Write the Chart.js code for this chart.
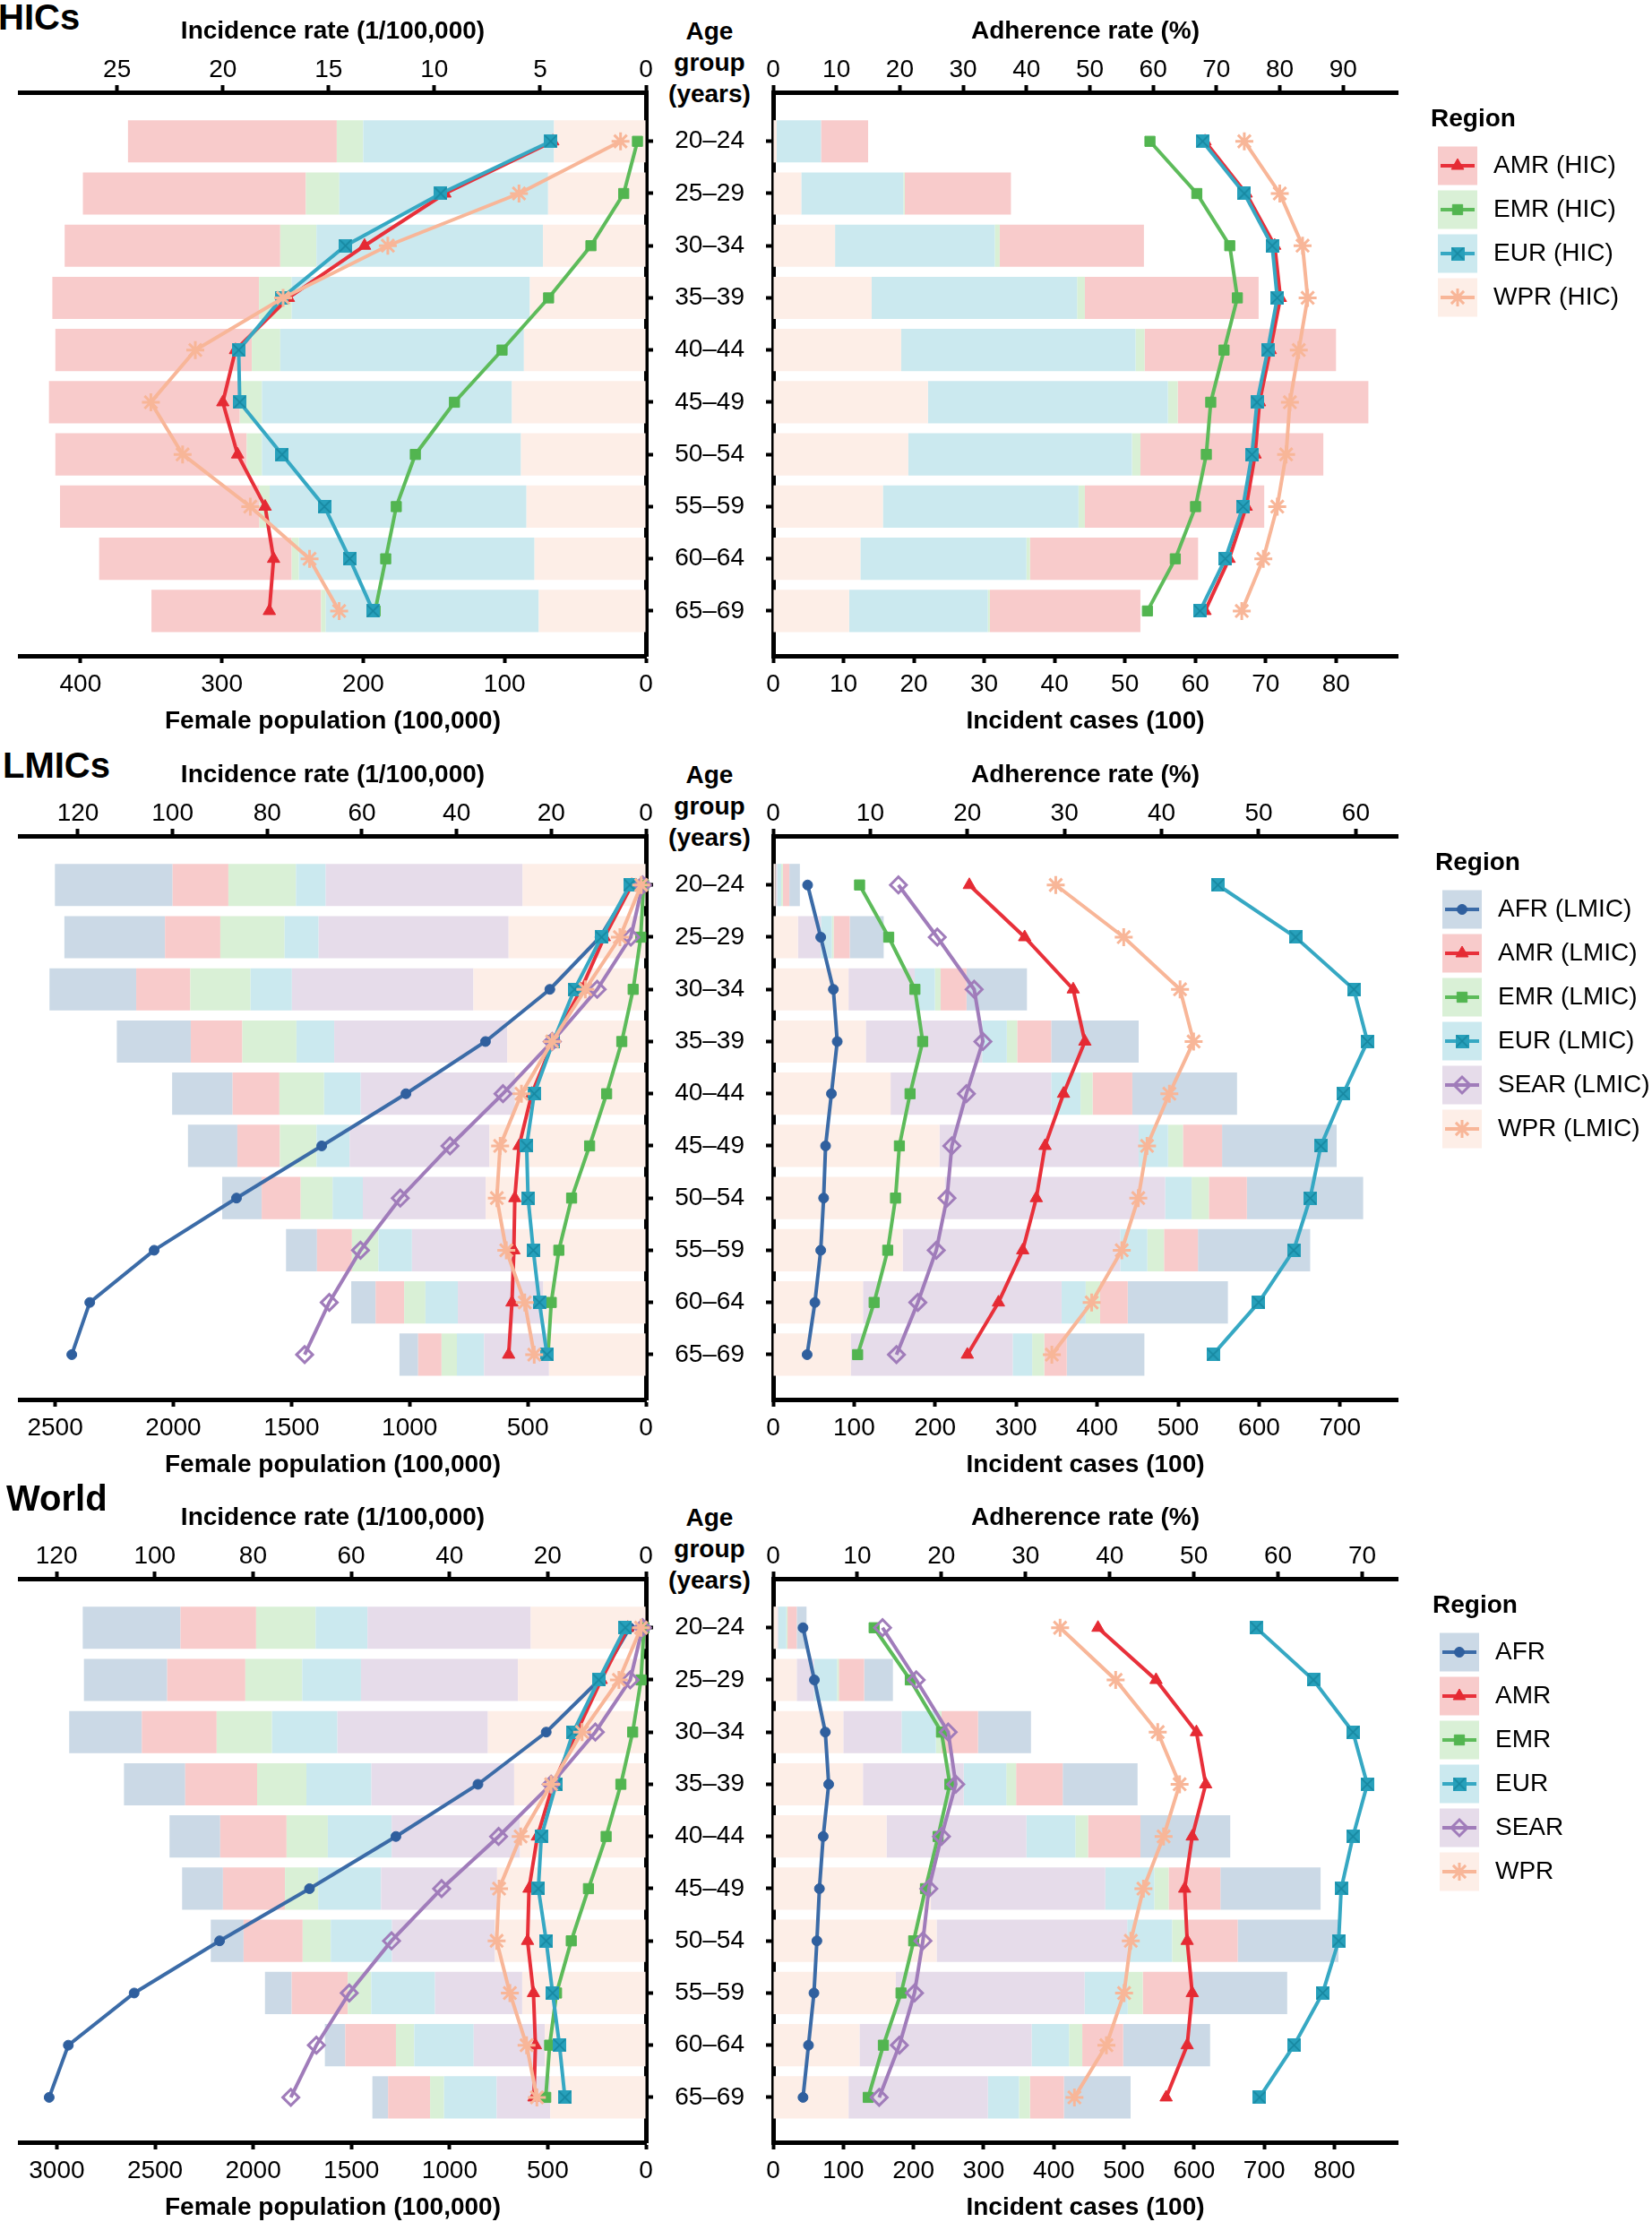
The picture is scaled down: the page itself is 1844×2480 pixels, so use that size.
<!DOCTYPE html>
<html>
<head>
<meta charset="utf-8">
<script src="https://cdn.jsdelivr.net/npm/chart.js@4.4.1/dist/chart.umd.min.js"></script>
<style>
  body { margin: 0; width: 1844px; height: 2480px; overflow: hidden; background: #fff; position: relative;
         font-family: 'Liberation Sans', Arial, sans-serif; }
  canvas { position: absolute; }
  .tag { position: absolute; font-weight: bold; font-size: 40px; line-height: 40px; }
  .age { position: absolute; left: 712px; width: 160px; text-align: center; font-weight: bold;
         font-size: 28px; line-height: 35px; }
</style>
</head>
<body>
<script>
// ---- data ----
const ageGroups = ['20–24', '25–29', '30–34', '35–39', '40–44', '45–49', '50–54', '55–59', '60–64', '65–69'];

// HICs
const hicRegions = ['AMR', 'EMR', 'EUR', 'WPR'];
const hicPopAMR = [147.7, 157.7, 152.5, 146.2, 139.0, 135.0, 135.4, 141.1, 136.2, 120.0];
const hicPopEMR = [18.7, 23.7, 25.6, 23.1, 20.1, 15.7, 10.8, 7.2, 5.1, 3.3];
const hicPopEUR = [135.0, 147.7, 160.3, 168.5, 172.4, 176.8, 183.2, 181.7, 166.7, 150.7];
const hicPopWPR = [65.0, 69.2, 72.8, 82.1, 86.3, 94.8, 88.4, 84.5, 78.8, 75.8];
const hicIncAMR = [4.4, 9.5, 13.3, 16.9, 19.4, 20.0, 19.3, 18.0, 17.6, 17.8];
const hicIncEMR = [0.4, 1.05, 2.6, 4.6, 6.8, 9.05, 10.9, 11.8, 12.3, 12.8];
const hicIncEUR = [4.5, 9.7, 14.2, 17.2, 19.25, 19.2, 17.2, 15.2, 14.0, 12.9];
const hicIncWPR = [1.2, 6.0, 12.2, 17.15, 21.3, 23.4, 21.9, 18.7, 15.9, 14.5];
const hicCasesAMR = [6.7, 15.1, 20.5, 24.7, 27.2, 27.1, 26.0, 25.5, 23.9, 21.4];
const hicCasesEMR = [0, 0.2, 0.7, 1.1, 1.3, 1.4, 1.2, 0.9, 0.5, 0.3];
const hicCasesEUR = [6.3, 14.5, 22.7, 29.2, 33.3, 34.1, 31.8, 27.8, 23.6, 19.7];
const hicCasesWPR = [0.5, 4.0, 8.8, 14.0, 18.2, 22.0, 19.2, 15.6, 12.4, 10.8];
const hicAdhAMR = [68.2, 74.7, 79.2, 80.1, 78.5, 76.8, 76.1, 74.7, 72.0, 68.2];
const hicAdhEMR = [59.5, 66.9, 72.1, 73.3, 71.2, 69.1, 68.4, 66.7, 63.5, 59.1];
const hicAdhEUR = [67.8, 74.4, 78.8, 79.6, 78.1, 76.4, 75.6, 74.2, 71.4, 67.4];
const hicAdhWPR = [74.4, 80.0, 83.6, 84.4, 83.0, 81.6, 81.0, 79.6, 77.4, 74.0];

// LMICs
const allRegions = ['AFR', 'AMR', 'EMR', 'EUR', 'SEAR', 'WPR'];
const lmicPopAFR = [498, 426, 367, 313, 256, 209, 167, 131, 103, 79];
const lmicPopAMR = [236, 234, 229, 218, 198, 180, 165, 148, 121, 99];
const lmicPopEMR = [286, 272, 255, 229, 189, 155, 135, 112, 90, 65];
const lmicPopEUR = [126, 144, 175, 160, 155, 140, 128, 142, 137, 115];
const lmicPopSEAR = [833, 804, 768, 732, 653, 592, 520, 434, 362, 275];
const lmicPopWPR = [522, 581, 730, 587, 554, 662, 678, 556, 434, 410];
const lmicIncAFR = [3.0, 9.7, 20.3, 33.9, 50.7, 68.5, 86.5, 103.9, 117.5, 121.3];
const lmicIncAMR = [3.0, 8.8, 13.7, 19.6, 24.1, 26.8, 27.7, 27.9, 28.3, 29.0];
const lmicIncEMR = [0.5, 1.1, 2.7, 5.1, 8.3, 11.9, 15.7, 18.4, 20.0, 20.7];
const lmicIncEUR = [3.4, 9.4, 15.1, 19.6, 23.6, 25.2, 24.9, 23.8, 22.5, 20.9];
const lmicIncSEAR = [0.7, 3.2, 10.3, 19.8, 30.2, 41.4, 51.9, 60.3, 66.9, 72.1];
const lmicIncWPR = [1.0, 5.5, 12.8, 19.8, 26.3, 30.8, 31.5, 29.5, 25.6, 23.6];
const lmicCasesAFR = [13, 42.0, 74.6, 108.0, 129.3, 141.5, 143.6, 138.6, 123.7, 95.9];
const lmicCasesAMR = [8, 19.9, 32.0, 42.0, 49.1, 48.3, 46.9, 41.9, 34.1, 27.8];
const lmicCasesEMR = [2, 2.1, 7.1, 12.8, 14.9, 18.5, 21.3, 20.6, 17.8, 14.9];
const lmicCasesEUR = [5, 13.5, 24.9, 30.5, 36.2, 36.2, 32.7, 33.5, 29.8, 24.1];
const lmicCasesSEAR = [2, 28.4, 81.7, 143.6, 198.3, 245.9, 272.2, 268.6, 245.2, 199.8];
const lmicCasesWPR = [3, 30.6, 93.1, 114.4, 145.0, 205.4, 211.8, 159.9, 110.9, 95.9];
const lmicAdhAFR = [3.55, 4.9, 6.2, 6.6, 6.0, 5.4, 5.2, 4.9, 4.3, 3.5];
const lmicAdhAMR = [20.2, 25.9, 30.9, 32.1, 29.9, 28.0, 27.1, 25.7, 23.2, 20.0];
const lmicAdhEMR = [8.9, 11.9, 14.6, 15.4, 14.1, 13.0, 12.6, 11.8, 10.4, 8.7];
const lmicAdhEUR = [45.8, 53.8, 59.8, 61.2, 58.7, 56.4, 55.3, 53.6, 50.0, 45.3];
const lmicAdhSEAR = [12.9, 16.9, 20.7, 21.6, 19.9, 18.4, 17.9, 16.8, 14.9, 12.7];
const lmicAdhWPR = [29.1, 36.1, 41.9, 43.3, 40.8, 38.5, 37.6, 35.9, 32.8, 28.7];

// World
const worldPopAFR = [498, 424, 370, 312, 258, 208, 167, 136, 104, 80];
const worldPopAMR = [385, 398, 381, 366, 338, 316, 301, 286, 258, 214];
const worldPopEMR = [303, 290, 282, 251, 210, 169, 143, 119, 93, 71];
const worldPopEUR = [264, 299, 333, 331, 325, 320, 312, 325, 303, 268];
const worldPopSEAR = [831, 799, 766, 727, 654, 591, 524, 444, 362, 273];
const worldPopWPR = [587, 652, 805, 671, 641, 758, 769, 630, 515, 487];
const worldIncAFR = [3.3, 9.5, 20.3, 34.2, 50.9, 68.5, 86.8, 104.2, 117.6, 121.5];
const worldIncAMR = [3.7, 9.1, 14.1, 18.9, 22.1, 23.8, 24.1, 22.9, 22.5, 22.8];
const worldIncEMR = [0.4, 1.0, 2.7, 5.1, 8.1, 11.7, 15.2, 18.2, 19.6, 20.4];
const worldIncEUR = [4.2, 9.6, 14.8, 18.3, 21.3, 21.9, 20.3, 19.0, 17.6, 16.5];
const worldIncSEAR = [0.7, 3.2, 10.3, 19.3, 30.0, 41.6, 51.8, 60.4, 67.1, 72.3];
const worldIncWPR = [1.0, 5.5, 13.0, 19.3, 25.5, 29.9, 30.4, 27.7, 24.3, 22.2];
const worldCasesAFR = [14.0, 41.0, 75.5, 106.7, 128.0, 142.8, 143.6, 133.7, 123.9, 95.1];
const worldCasesAMR = [13.1, 36.1, 52.0, 66.4, 74.7, 73.8, 71.3, 72.2, 58.3, 48.4];
const worldCasesEMR = [1.6, 2.5, 8.0, 14.0, 18.0, 20.5, 22.2, 21.4, 18.9, 15.6];
const worldCasesEUR = [11.5, 32.8, 49.0, 60.7, 69.8, 69.8, 64.0, 61.5, 53.3, 44.4];
const worldCasesSEAR = [1.7, 24.7, 83.0, 143.6, 199.4, 248.6, 271.6, 269.1, 245.3, 198.5];
const worldCasesWPR = [5.7, 33.6, 100.0, 128.0, 161.6, 224.8, 233.0, 174.8, 123.1, 107.5];
const worldAdhAFR = [3.55, 4.9, 6.2, 6.6, 5.95, 5.5, 5.2, 4.85, 4.2, 3.55];
const worldAdhAMR = [38.6, 45.5, 50.3, 51.4, 49.8, 48.9, 49.2, 49.8, 49.2, 46.7];
const worldAdhEMR = [12.0, 16.3, 20.0, 21.0, 19.6, 18.1, 16.7, 15.2, 13.1, 11.3];
const worldAdhEUR = [57.4, 64.2, 68.9, 70.6, 68.9, 67.5, 67.2, 65.3, 61.9, 57.8];
const worldAdhSEAR = [13.0, 17.0, 20.8, 21.7, 20.0, 18.5, 17.8, 16.8, 15.0, 12.6];
const worldAdhWPR = [34.1, 40.7, 45.7, 48.3, 46.4, 44.0, 42.5, 41.7, 39.6, 35.8];

// ---- styles ----
const lineColors = { AFR: '#3b6ba7', AMR: '#e8303a', EMR: '#5dbb5a', EUR: '#36a8c3', SEAR: '#a07cba', WPR: '#f8b698' };
const barColors = { AFR: '#cbd9e6', AMR: '#f8cbcb', EMR: '#d9f0d6', EUR: '#cbe9ef', SEAR: '#e6dcea', WPR: '#fdeee7' };

function eurMarker() {
  const c = document.createElement('canvas');
  c.width = 15; c.height = 15;
  const g = c.getContext('2d');
  g.fillStyle = '#27a0bb';
  g.fillRect(0, 0, 15, 15);
  g.strokeStyle = '#17869f';
  g.lineWidth = 1.6;
  g.beginPath();
  g.moveTo(1, 1); g.lineTo(14, 14);
  g.moveTo(14, 1); g.lineTo(1, 14);
  g.stroke();
  return c;
}

const markers = {
  AFR: { style: 'circle', radius: 5.5, fill: '#2f5f9e', border: '#2f5f9e', bw: 1 },
  AMR: { style: 'triangle', radius: 8, fill: '#e52a33', border: '#e52a33', bw: 1 },
  EMR: { style: 'rect', radius: 8, fill: '#52b550', border: '#52b550', bw: 1 },
  EUR: { style: eurMarker(), radius: 7, fill: '#27a0bb', border: '#27a0bb', bw: 1 },
  SEAR: { style: 'rectRot', radius: 9, fill: 'rgba(255,255,255,0)', border: '#a07cba', bw: 3 },
  WPR: { style: 'star', radius: 10, fill: '#f8b698', border: '#f8b698', bw: 3 }
};

const panels = [
  { tag: 'HICs', tagX: -2, tagY: 19, suffix: ' (HIC)', regions: hicRegions, legendX: 1605,
    pop: { AMR: hicPopAMR, EMR: hicPopEMR, EUR: hicPopEUR, WPR: hicPopWPR },
    inc: { AMR: hicIncAMR, EMR: hicIncEMR, EUR: hicIncEUR, WPR: hicIncWPR },
    cases: { AMR: hicCasesAMR, EMR: hicCasesEMR, EUR: hicCasesEUR, WPR: hicCasesWPR },
    adh: { AMR: hicAdhAMR, EMR: hicAdhEMR, EUR: hicAdhEUR, WPR: hicAdhWPR },
    popMax: 443, popStep: 100, incMax: 29.6, incStep: 5,
    casesMax: 88.75, casesStep: 10, adhMax: 98.6, adhStep: 10 },
  { tag: 'LMICs', tagX: 3, tagY: 24, suffix: ' (LMIC)', regions: allRegions, legendX: 1610,
    pop: { AFR: lmicPopAFR, AMR: lmicPopAMR, EMR: lmicPopEMR, EUR: lmicPopEUR, SEAR: lmicPopSEAR, WPR: lmicPopWPR },
    inc: { AFR: lmicIncAFR, AMR: lmicIncAMR, EMR: lmicIncEMR, EUR: lmicIncEUR, SEAR: lmicIncSEAR, WPR: lmicIncWPR },
    cases: { AFR: lmicCasesAFR, AMR: lmicCasesAMR, EMR: lmicCasesEMR, EUR: lmicCasesEUR, SEAR: lmicCasesSEAR, WPR: lmicCasesWPR },
    adh: { AFR: lmicAdhAFR, AMR: lmicAdhAMR, EMR: lmicAdhEMR, EUR: lmicAdhEUR, SEAR: lmicAdhSEAR, WPR: lmicAdhWPR },
    popMax: 2650, popStep: 500, incMax: 132.3, incStep: 20,
    casesMax: 771, casesStep: 100, adhMax: 64.3, adhStep: 10 },
  { tag: 'World', tagX: 7, tagY: 13, suffix: '', regions: allRegions, legendX: 1607,
    pop: { AFR: worldPopAFR, AMR: worldPopAMR, EMR: worldPopEMR, EUR: worldPopEUR, SEAR: worldPopSEAR, WPR: worldPopWPR },
    inc: { AFR: worldIncAFR, AMR: worldIncAMR, EMR: worldIncEMR, EUR: worldIncEUR, SEAR: worldIncSEAR, WPR: worldIncWPR },
    cases: { AFR: worldCasesAFR, AMR: worldCasesAMR, EMR: worldCasesEMR, EUR: worldCasesEUR, SEAR: worldCasesSEAR, WPR: worldCasesWPR },
    adh: { AFR: worldAdhAFR, AMR: worldAdhAMR, EMR: worldAdhEMR, EUR: worldAdhEUR, SEAR: worldAdhSEAR, WPR: worldAdhWPR },
    popMax: 3189, popStep: 500, incMax: 127.5, incStep: 20,
    casesMax: 890, casesStep: 100, adhMax: 74.2, adhStep: 10 }
];

const rowTops = [0, 830, 1659];
const ROW_H = 830;
const FONT = "'Liberation Sans', Arial, sans-serif";

Chart.defaults.font.family = FONT;
Chart.defaults.font.size = 28;
Chart.defaults.color = '#000';

// ---- helpers ----
function pts(values) {
  return values.map((v, i) => ({ x: v, y: i }));
}

function barSets(p, key) {
  // stacked outward from the axis: last region sits next to zero
  return [...p.regions].reverse().map(r => ({
    type: 'bar', label: r, data: pts(p[key][r]),
    backgroundColor: barColors[r], borderWidth: 0,
    xAxisID: 'x', yAxisID: 'y', order: 100,
    categoryPercentage: 0.9, barPercentage: 0.9
  }));
}

function lineSets(p, key) {
  return p.regions.map((r, i) => {
    const m = markers[r];
    return {
      type: 'line', label: r, data: pts(p[key][r]),
      xAxisID: 'x2', yAxisID: 'y', order: p.regions.length - i,
      borderColor: lineColors[r], borderWidth: 4, tension: 0, fill: false, clip: false,
      pointStyle: m.style, pointRadius: m.radius, pointBackgroundColor: m.fill,
      pointBorderColor: m.border, pointBorderWidth: m.bw
    };
  });
}

function valueAxis(pos, max, step, title, reverse, stacked, height, tickPad, titlePad) {
  return {
    type: 'linear', axis: 'x', position: pos, min: 0, max: max, reverse: reverse, stacked: stacked,
    afterBuildTicks: s => {
      const t = [];
      for (let v = 0; v <= max + 1e-9; v += step) t.push({ value: v });
      s.ticks = t;
    },
    afterFit: s => { s.height = height; },
    ticks: { autoSkip: false, maxRotation: 0, padding: tickPad,
             font: { size: 28 }, color: '#000', callback: v => String(v) },
    grid: { drawOnChartArea: false, drawTicks: true, tickLength: 8, tickWidth: 4, tickColor: '#000' },
    border: { display: true, width: 5, color: '#000' },
    title: { display: true, text: title, color: '#000', font: { size: 28, weight: 'bold' }, padding: titlePad }
  };
}

function ageAxis(pos, width, showLabels) {
  return {
    type: 'linear', position: pos, reverse: true, min: -0.94, max: 9.86, stacked: true, offset: false,
    afterBuildTicks: s => { s.ticks = ageGroups.map((_, i) => ({ value: i })); },
    afterFit: s => { s.width = width; },
    ticks: { display: showLabels, autoSkip: false, padding: 24, font: { size: 28 }, color: '#000',
             callback: v => ageGroups[v] },
    grid: { offset: false, drawOnChartArea: false, drawTicks: true, tickLength: 8, tickWidth: 4, tickColor: '#000' },
    border: { display: true, width: 5, color: '#000' }
  };
}

const legendPlugin = {
  id: 'regionLegend',
  afterDraw(chart) {
    const o = chart.options.plugins.regionLegend;
    const ctx = chart.ctx;
    ctx.save();
    ctx.textBaseline = 'middle';
    ctx.textAlign = 'left';
    ctx.fillStyle = '#000';
    ctx.font = 'bold 28px ' + FONT;
    ctx.fillText('Region', o.x - 8, o.top);
    o.regions.forEach((r, i) => {
      const cy = o.top + 52 + i * 49;
      ctx.fillStyle = barColors[r];
      ctx.fillRect(o.x, cy - 21.5, 44, 43);
      ctx.strokeStyle = lineColors[r];
      ctx.lineWidth = 4;
      ctx.beginPath();
      ctx.moveTo(o.x + 3, cy);
      ctx.lineTo(o.x + 41, cy);
      ctx.stroke();
      const m = markers[r];
      ctx.fillStyle = m.fill;
      ctx.strokeStyle = m.border;
      ctx.lineWidth = m.bw;
      Chart.helpers.drawPoint(ctx, { pointStyle: m.style, radius: m.radius, rotation: 0, borderWidth: m.bw }, o.x + 22, cy);
      ctx.fillStyle = '#000';
      ctx.font = '28px ' + FONT;
      ctx.fillText(r + o.suffix, o.x + 62, cy);
    });
    ctx.restore();
  }
};

function addCanvas(left, top, w, h) {
  const c = document.createElement('canvas');
  c.width = w; c.height = h;
  c.style.left = left + 'px'; c.style.top = top + 'px';
  c.style.width = w + 'px'; c.style.height = h + 'px';
  document.body.appendChild(c);
  return c;
}

function addDiv(cls, html, left, top) {
  const d = document.createElement('div');
  d.className = cls;
  d.innerHTML = html;
  if (left !== null) d.style.left = left + 'px';
  d.style.top = top + 'px';
  document.body.appendChild(d);
}

const baseOpts = {
  indexAxis: 'y', responsive: false, animation: false, devicePixelRatio: 1, events: []
};

const RIGHT_LEFT = 730;

panels.forEach((p, k) => {
  const oy = rowTops[k];

  addDiv('tag', p.tag, p.tagX, oy + p.tagY - 20);
  addDiv('age', 'Age<br>group<br>(years)', null, oy + 17);

  // left: female population bars + incidence lines, both axes reversed
  const leftCanvas = addCanvas(0, oy, 745, ROW_H);
  new Chart(leftCanvas, {
    type: 'bar',
    data: { datasets: [...barSets(p, 'pop'), ...lineSets(p, 'inc')] },
    options: {
      ...baseOpts,
      layout: { padding: { left: 22, right: 0, top: 0, bottom: 0 } },
      plugins: { legend: { display: false }, tooltip: { enabled: false } },
      scales: {
        x: valueAxis('bottom', p.popMax, p.popStep, 'Female population (100,000)', true, true, 98, 7, { top: 0, bottom: 8 }),
        x2: valueAxis('top', p.incMax, p.incStep, 'Incidence rate (1/100,000)', true, false, 103, 0, { top: 18, bottom: 0 }),
        y: ageAxis('right', 24, false)
      }
    }
  });

  // right: incident case bars + adherence lines, with legend
  const rightCanvas = addCanvas(RIGHT_LEFT, oy, 1844 - RIGHT_LEFT, ROW_H);
  new Chart(rightCanvas, {
    type: 'bar',
    data: { datasets: [...barSets(p, 'cases'), ...lineSets(p, 'adh')] },
    options: {
      ...baseOpts,
      layout: { padding: { left: 0, right: 1844 - 1560, top: 0, bottom: 0 } },
      plugins: {
        legend: { display: false }, tooltip: { enabled: false },
        regionLegend: { x: p.legendX - RIGHT_LEFT, top: 133, regions: p.regions, suffix: p.suffix }
      },
      scales: {
        x: valueAxis('bottom', p.casesMax, p.casesStep, 'Incident cases (100)', false, true, 98, 7, { top: 0, bottom: 8 }),
        x2: valueAxis('top', p.adhMax, p.adhStep, 'Adherence rate (%)', false, false, 103, 0, { top: 18, bottom: 0 }),
        y: ageAxis('left', 863 - RIGHT_LEFT, true)
      }
    },
    plugins: [legendPlugin]
  });
});
</script>
</body>
</html>
